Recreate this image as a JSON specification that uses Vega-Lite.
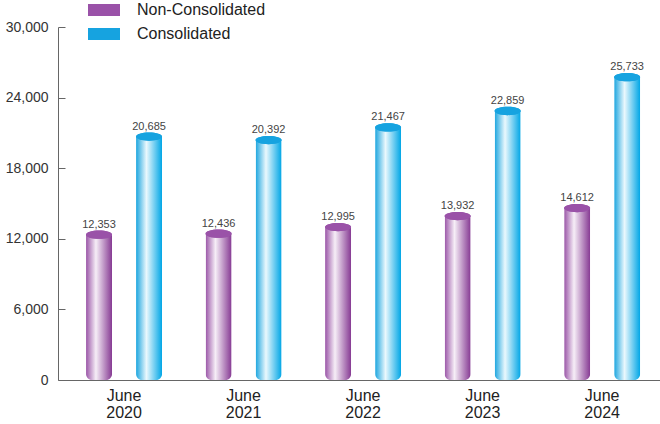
{
  "$schema": "https://vega.github.io/schema/vega-lite/v6.json",
  "width": 606,
  "height": 353,
  "autosize": {"type": "none"},
  "padding": {"left": 58, "top": 27, "right": 0, "bottom": 44},
  "background": "white",
  "config": {
    "view": {"stroke": null},
    "font": "Liberation Sans",
    "axis": {"grid": false}
  },
  "data": {
    "values": [
      {"year": "2020", "series": "Non-Consolidated", "value": 12353},
      {"year": "2020", "series": "Consolidated", "value": 20685},
      {"year": "2021", "series": "Non-Consolidated", "value": 12436},
      {"year": "2021", "series": "Consolidated", "value": 20392},
      {"year": "2022", "series": "Non-Consolidated", "value": 12995},
      {"year": "2022", "series": "Consolidated", "value": 21467},
      {"year": "2023", "series": "Non-Consolidated", "value": 13932},
      {"year": "2023", "series": "Consolidated", "value": 22859},
      {"year": "2024", "series": "Non-Consolidated", "value": 14612},
      {"year": "2024", "series": "Consolidated", "value": 25733}
    ]
  },
  "resolve": {"axis": {"y": "independent"}},
  "encoding": {
    "x": {
      "field": "year",
      "type": "nominal",
      "scale": {"paddingInner": 0, "paddingOuter": 0.035, "align": 0.75},
      "axis": {
        "title": null,
        "labelAngle": 0,
        "labelExpr": "['June', datum.label]",
        "labelFontSize": 16,
        "labelLineHeight": 17,
        "labelColor": "#222",
        "labelPadding": 7,
        "ticks": false,
        "domainColor": "#666",
        "domainWidth": 1
      }
    },
    "xOffset": {
      "field": "series",
      "type": "nominal",
      "sort": ["Non-Consolidated", "Consolidated"],
      "scale": {"domain": ["Non-Consolidated", "Consolidated"], "paddingInner": 0.48, "paddingOuter": 0.435}
    }
  },
  "layer": [
    {
      "transform": [{"filter": "datum.series == 'Non-Consolidated'"}],
      "mark": {
        "type": "bar", "cornerRadiusBottomLeft": 6, "cornerRadiusBottomRight": 6,
        "color": {"gradient": "linear", "x1": 0, "x2": 1, "y1": 0, "y2": 0, "stops": [
          {"offset": 0, "color": "#9a55a7"},
          {"offset": 0.38, "color": "#f6eef7"},
          {"offset": 1, "color": "#863a93"}
        ]}
      },
      "encoding": {
        "y": {
          "field": "value",
          "type": "quantitative",
          "scale": {"domain": [0, 30000], "nice": false},
          "axis": {
            "title": null,
            "values": [0, 6000, 12000, 18000, 24000, 30000],
            "format": ",d",
            "labelFontSize": 14,
            "labelColor": "#333",
            "ticks": false,
            "labelPadding": 10,
            "domainColor": "#666"
          }
        }
      }
    },
    {
      "transform": [{"filter": "datum.series == 'Consolidated'"}],
      "mark": {
        "type": "bar", "cornerRadiusBottomLeft": 6, "cornerRadiusBottomRight": 6,
        "color": {"gradient": "linear", "x1": 0, "x2": 1, "y1": 0, "y2": 0, "stops": [
          {"offset": 0, "color": "#1ba5df"},
          {"offset": 0.4, "color": "#eaf8fd"},
          {"offset": 1, "color": "#00a6e6"}
        ]}
      },
      "encoding": {
        "y": {
          "field": "value",
          "type": "quantitative",
          "scale": {"domain": [0, 30000], "nice": false},
          "axis": {
            "title": null,
            "orient": "right",
            "offset": -606,
            "values": [0, 6000, 12000, 18000, 24000, 30000],
            "labels": false,
            "domain": false,
            "ticks": true,
            "tickSize": 7,
            "tickColor": "#666"
          }
        }
      }
    },
    {
      "mark": {"type": "point", "shape": "M-1,0A1,0.32 0 1,0 1,0A1,0.32 0 1,0 -1,0Z", "size": 676, "filled": true, "opacity": 1, "strokeWidth": 0},
      "encoding": {
        "y": {"field": "value", "type": "quantitative", "axis": null},
        "fill": {
          "field": "series",
          "type": "nominal",
          "sort": ["Non-Consolidated", "Consolidated"],
          "scale": {"domain": ["Non-Consolidated", "Consolidated"], "range": ["#9a52a8", "#16a3e0"]},
          "legend": {
            "title": null,
            "orient": "none",
            "legendX": 30,
            "legendY": -33,
            "symbolType": "M-1,-0.375H1V0.375H-1Z",
            "symbolSize": 1024,
            "symbolStrokeWidth": 0,
            "symbolOpacity": 1,
            "labelFontSize": 16,
            "labelColor": "#222",
            "labelOffset": 17,
            "rowPadding": -8
          }
        }
      }
    },
    {
      "mark": {"type": "point", "shape": "M-1,0A1,0.32 0 1,0 1,0A1,0.32 0 1,0 -1,0Z", "size": 676, "filled": true, "opacity": 1, "strokeWidth": 0},
      "encoding": {
        "y": {"field": "value", "type": "quantitative", "axis": null},
        "fill": {
          "field": "series",
          "type": "nominal",
          "scale": {"domain": ["Non-Consolidated", "Consolidated"], "range": ["#8d4b9b", "#0896d8"]},
          "legend": null
        }
      }
    },
    {
      "mark": {"type": "text", "baseline": "bottom", "dy": -5, "fontSize": 11, "color": "#444"},
      "encoding": {
        "y": {"field": "value", "type": "quantitative", "axis": null},
        "text": {"field": "value", "type": "quantitative", "format": ",d"}
      }
    }
  ]
}
